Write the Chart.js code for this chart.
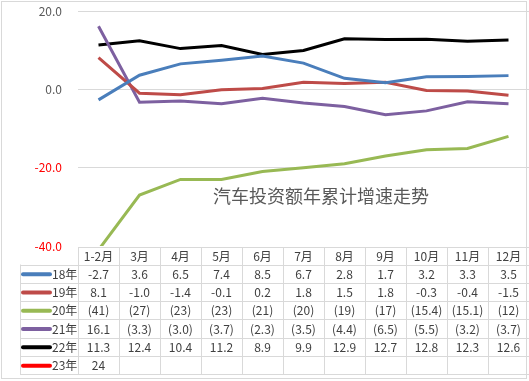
<!DOCTYPE html>
<html>
<head>
<meta charset="utf-8">
<script src="https://cdn.jsdelivr.net/npm/chart.js@4/dist/chart.umd.min.js"></script>
<style>
  html, body { margin: 0; padding: 0; background: #fff; }
  canvas { display: block; }
</style>
</head>
<body>
<canvas id="myChart" width="529" height="381"></canvas>
<script>
// data
const months = ['1-2月', '3月', '4月', '5月', '6月', '7月', '8月', '9月', '10月', '11月', '12月'];
const y18 = [-2.7, 3.6, 6.5, 7.4, 8.5, 6.7, 2.8, 1.7, 3.2, 3.3, 3.5];
const y19 = [8.1, -1.0, -1.4, -0.1, 0.2, 1.8, 1.5, 1.8, -0.3, -0.4, -1.5];
const y20 = [-41, -27, -23, -23, -21, -20, -19, -17, -15.4, -15.1, -12];
const y21 = [16.1, -3.3, -3.0, -3.7, -2.3, -3.5, -4.4, -6.5, -5.5, -3.2, -3.7];
const y22 = [11.3, 12.4, 10.4, 11.2, 8.9, 9.9, 12.9, 12.7, 12.8, 12.3, 12.6];
const y23 = [24, null, null, null, null, null, null, null, null, null, null];
const seriesNames = ['18年', '19年', '20年', '21年', '22年', '23年'];
const seriesColors = ['#4a7ebb', '#be4b48', '#98b954', '#7d60a0', '#000000', '#ff0000'];
// how each row of the table writes its numbers
const useParens = [false, false, true, true, false, false];
const decimals = [1, 1, null, 1, 1, null];
const chartTitle = '汽车投资额年累计增速走势';

const allSeries = [y18, y19, y20, y21, y22, y23];
const FONT = '"Noto Sans CJK SC", "Noto Sans", sans-serif';

function fmt(v, i) {
  if (v === null) return '';
  const a = Math.abs(v);
  const s = decimals[i] === null ? String(a) : a.toFixed(decimals[i]);
  if (v < 0) return useParens[i] ? '(' + s + ')' : '-' + s;
  return s;
}

// draws the data table under the plot, the title and the frame
const tablePlugin = {
  id: 'dataTable',
  afterDraw(chart) {
    const ctx = chart.ctx;
    const area = chart.chartArea;
    const xs = chart.scales.x;
    const band = (area.right - area.left) / months.length;
    const headTop = area.bottom + 1;
    const headH = 17.5;
    const rowH = 18.3;
    const keyLeft = 20;
    const nRows = seriesNames.length;
    const bottom = headTop + headH + rowH * nRows;

    ctx.save();
    ctx.strokeStyle = '#d9d9d9';
    ctx.lineWidth = 1;

    // horizontal rules
    ctx.beginPath();
    ctx.moveTo(area.left, headTop + 0.5);
    ctx.lineTo(area.right, headTop + 0.5);
    for (let r = 0; r <= nRows; r++) {
      const y = Math.round(headTop + headH + rowH * r) + 0.5;
      ctx.moveTo(keyLeft, y);
      ctx.lineTo(area.right, y);
    }
    // vertical rules
    for (let c = 0; c <= months.length; c++) {
      const x = Math.round(area.left + band * c) + 0.5;
      ctx.moveTo(x, headTop);
      ctx.lineTo(x, bottom);
    }
    ctx.moveTo(keyLeft + 0.5, headTop + headH);
    ctx.lineTo(keyLeft + 0.5, bottom);
    ctx.stroke();

    ctx.font = '12px ' + FONT;
    ctx.fillStyle = '#404040';
    ctx.textAlign = 'center';
    ctx.textBaseline = 'middle';
    months.forEach((m, c) => {
      ctx.fillText(m, xs.getPixelForValue(c), headTop + headH / 2 + 1);
    });

    allSeries.forEach((vals, r) => {
      const cy = headTop + headH + rowH * r + rowH / 2 + 0.5;
      // legend key
      ctx.strokeStyle = seriesColors[r];
      ctx.lineWidth = 4;
      ctx.lineCap = 'round';
      ctx.beginPath();
      ctx.moveTo(keyLeft + 3, cy);
      ctx.lineTo(keyLeft + 30, cy);
      ctx.stroke();
      ctx.fillStyle = '#404040';
      ctx.textAlign = 'left';
      ctx.fillText(seriesNames[r], keyLeft + 32, cy);
      ctx.textAlign = 'center';
      vals.forEach((v, c) => {
        ctx.fillText(fmt(v, r), xs.getPixelForValue(c), cy);
      });
    });

    // title inside the plot
    ctx.font = '18px ' + FONT;
    ctx.fillStyle = '#595959';
    ctx.textAlign = 'left';
    ctx.fillText(chartTitle, 213, 196);

    // outer frame
    ctx.strokeStyle = '#d9d9d9';
    ctx.lineWidth = 1;
    ctx.strokeRect(1.5, 1.5, 525, 377);
    ctx.restore();
  }
};

const datasets = allSeries.map((vals, i) => ({
  label: seriesNames[i],
  data: vals,
  borderColor: seriesColors[i],
  backgroundColor: seriesColors[i],
  borderWidth: 3,
  pointRadius: 0,
  tension: 0,
  fill: false,
}));

new Chart(document.getElementById('myChart'), {
  type: 'line',
  data: { labels: months, datasets },
  options: {
    responsive: false,
    animation: false,
    layout: { autoPadding: false, padding: { top: 11, right: 0, bottom: 135, left: 0 } },
    scales: {
      x: { display: false, offset: true },
      y: {
        min: -40,
        max: 20,
        afterFit: (scale) => { scale.width = 78; },
        border: { display: false },
        grid: {
          drawTicks: true,
          tickLength: 16,
          tickColor: 'rgba(0,0,0,0)',
          color: (c) => (c.tick && c.tick.value === -40 ? 'rgba(0,0,0,0)' : '#d9d9d9'),
        },
        ticks: {
          stepSize: 20,
          padding: 0,
          font: { family: FONT, size: 12 },
          color: (c) => (c.tick && c.tick.value < 0 ? '#ff0000' : '#595959'),
          callback: (v) => Number(v).toFixed(1),
        },
      },
    },
    plugins: {
      legend: { display: false },
      tooltip: { enabled: false },
    },
  },
  plugins: [tablePlugin],
});
</script>
</body>
</html>
